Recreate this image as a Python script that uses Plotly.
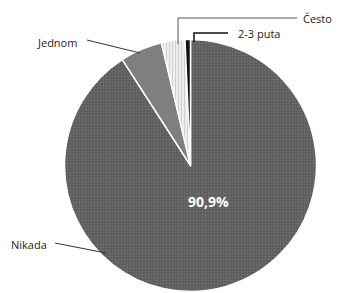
import plotly.graph_objects as go

labels = ["Nikada", "Jednom", "Često", "2-3 puta"]
values = [90.9, 5.4, 3.0, 0.7]
colors = ["#5c5c5c", "#7f7f7f", "#f2f2f2", "#111111"]
pattern_shapes = ["+", "", "|", ""]
pattern_fg = ["#6e6e6e", "#7f7f7f", "#d0d0d0", "#111111"]
main_label = "90,9%"

W, H = 337, 293

def px(x):
    return x / W

def py(y):
    return 1 - y / H

fig = go.Figure(go.Pie(
    labels=labels,
    values=values,
    sort=False,
    direction="clockwise",
    rotation=0,
    textinfo="none",
    hoverinfo="label+percent",
    marker=dict(
        colors=colors,
        line=dict(color="white", width=1.5),
        pattern=dict(shape=pattern_shapes, fgcolor=pattern_fg, bgcolor=colors,
                     fillmode="replace", size=3, solidity=0.4),
    ),
    domain=dict(x=[px(64.5), px(316.5)], y=[py(291.5), py(39.5)]),
    showlegend=False,
))

font = dict(family="Open Sans, Noto Sans, sans-serif", size=11, color="#222222")

annotations = [
    dict(x=px(79), y=py(42), text="Jednom", xanchor="right", yanchor="middle", showarrow=False, font=font),
    dict(x=px(49), y=py(244), text="Nikada", xanchor="right", yanchor="middle", showarrow=False, font=font),
    dict(x=px(301), y=py(18), text="Često", xanchor="left", yanchor="middle", showarrow=False, font=font),
    dict(x=px(236), y=py(33), text="2-3 puta", xanchor="left", yanchor="middle", showarrow=False, font=font),
    dict(x=px(208), y=py(213), text="<b>" + main_label + "</b>", showarrow=False,
         font=dict(family="Open Sans, Noto Sans, sans-serif", size=14, color="white")),
]

line_style = dict(color="#333333", width=1)
shapes = [
    dict(type="line", xref="paper", yref="paper", x0=px(87), y0=py(40), x1=px(140), y1=py(53), line=line_style),
    dict(type="line", xref="paper", yref="paper", x0=px(55), y0=py(243), x1=px(106), y1=py(253), line=line_style),
    dict(type="path", xref="paper", yref="paper",
         path=f"M {px(297)} {py(18)} L {px(178)} {py(18)} L {px(178)} {py(44)}",
         line=dict(color="#555555", width=1)),
    dict(type="path", xref="paper", yref="paper",
         path=f"M {px(228)} {py(33)} L {px(194)} {py(33)} L {px(194)} {py(42)}",
         line=dict(color="#111111", width=1.5)),
]

fig.update_layout(
    width=W, height=H,
    margin=dict(l=0, r=0, t=0, b=0),
    paper_bgcolor="white",
    plot_bgcolor="white",
    annotations=annotations,
    shapes=shapes,
)

fig.write_html("out.html", config={"displayModeBar": False},
               post_script="document.body.style.margin='0';document.body.style.overflow='hidden';")
